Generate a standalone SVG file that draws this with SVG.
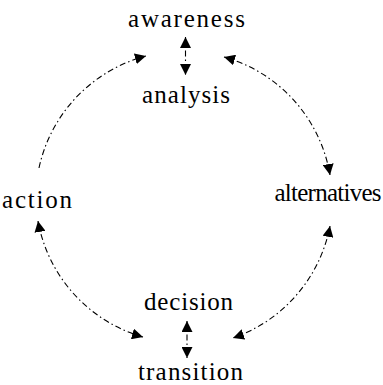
<svg xmlns="http://www.w3.org/2000/svg" width="383" height="385" viewBox="0 0 383 385">
<defs>
<marker id="ah" markerUnits="userSpaceOnUse" markerWidth="12" markerHeight="11" refX="11" refY="5.5" orient="auto-start-reverse" viewBox="0 0 12 11">
<path d="M0,0 L11,5.5 L0,11 z" fill="#000"/>
</marker>
<style>
.lbl{font-family:"Liberation Serif",serif;font-size:25px;fill:#000;text-anchor:middle}
.c{fill:none;stroke:#000;stroke-width:1.1;stroke-dasharray:6 3 1.5 3}
</style>
</defs>
<rect width="383" height="385" fill="#fff"/>
<g id="connectors">
<path class="c" d="M185.5,37 L185.5,75" marker-start="url(#ah)" marker-end="url(#ah)"/>
<path class="c" d="M187,321 L187,358" marker-start="url(#ah)" marker-end="url(#ah)"/>
<path class="c" d="M39,168 A148 148 0 0 1 146,56" marker-end="url(#ah)"/>
<path class="c" d="M224,57 A148 148 0 0 1 330,175" marker-start="url(#ah)" marker-end="url(#ah)"/>
<path class="c" d="M330,226 A148 148 0 0 1 233,338" marker-start="url(#ah)" marker-end="url(#ah)"/>
<path class="c" d="M38,221 A148 148 0 0 0 143,337" marker-start="url(#ah)" marker-end="url(#ah)"/>
</g>
<g id="awareness"><text class="lbl" x="186.5" y="27" textLength="117" lengthAdjust="spacing">awareness</text></g>
<g id="analysis"><text class="lbl" x="186" y="103" textLength="88" lengthAdjust="spacing">analysis</text></g>
<g id="action"><text class="lbl" x="37" y="208" textLength="70" lengthAdjust="spacing">action</text></g>
<g id="alternatives"><text class="lbl" x="328" y="201" textLength="107" lengthAdjust="spacing">alternatives</text></g>
<g id="decision"><text class="lbl" x="188.5" y="310" textLength="89" lengthAdjust="spacing">decision</text></g>
<g id="transition"><text class="lbl" x="190.5" y="380" textLength="105" lengthAdjust="spacing">transition</text></g>
</svg>
